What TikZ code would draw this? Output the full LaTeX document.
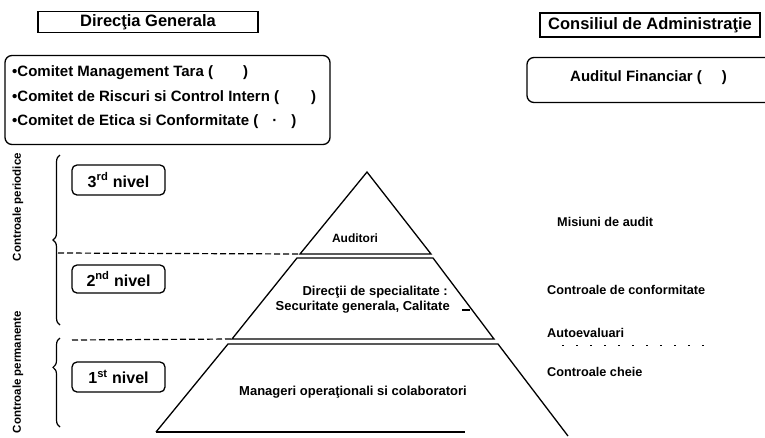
\documentclass[tikz,border=0pt]{standalone}
\usepackage{fontspec}
\setmainfont{Liberation Sans}
\usetikzlibrary{decorations.pathreplacing}
\begin{document}
\begin{tikzpicture}[x=1pt,y=-1pt,
  sqbox/.style={draw,line width=1.3pt,inner sep=0pt,font=\bfseries\fontsize{16.5}{18}\selectfont},
  rbox/.style={draw,line width=1.3pt,rounded corners=7pt,inner sep=0pt},
  lvl/.style={draw,line width=1.3pt,rounded corners=5pt,inner sep=0pt,minimum width=93pt,font=\bfseries\fontsize{16}{18}\selectfont},
  lst/.style={anchor=west,inner sep=0pt,font=\bfseries\fontsize{15}{17}\selectfont},
  ptxt/.style={inner sep=0pt,font=\bfseries\fontsize{13}{15}\selectfont},
  rtxt/.style={anchor=west,inner sep=0pt,font=\bfseries\fontsize{12.7}{14}\selectfont},
  side/.style={inner sep=0pt,rotate=90,font=\bfseries\fontsize{11.5}{13}\selectfont},
  pyr/.style={line width=1.3pt,line join=miter},
  sep/.style={line width=1.2pt,dash pattern=on 6pt off 3pt},
  brc/.style={line width=1.2pt,decorate,decoration={brace,amplitude=7pt}}]
\useasboundingbox (0,0) rectangle (765,437);
% top boxes
\node[sqbox,minimum width=220pt,minimum height=21pt] (dg) at (148,22) {Direcţia Generala};
\node[rbox,minimum width=325pt,minimum height=89pt] (com) at (167.5,100) {};
\node[lst] (c1) at (12,73) {•Comitet Management Tara (\hspace{30pt})};
\node[lst] (c2) at (12,98) {•Comitet de Riscuri si Control Intern (\hspace{32pt})};
\node[lst] (c3) at (12,122) {•Comitet de Etica si Conformitate (\hspace{14pt}·\hspace{14pt})};
\node[sqbox,minimum width=220pt,minimum height=24pt] (ca) at (650,25) {Consiliul de Administraţie};
\node[rbox,minimum width=250pt,minimum height=45pt] (af) at (652,80) {};
\node[lst] (aft) at (570,78) {Auditul Financiar (\hspace{20pt})};
% level boxes
\node[lvl,minimum height=30pt] (n3) at (118.5,180) {3\textsuperscript{rd} nivel};
\node[lvl,minimum height=28pt] (n2) at (118.5,279) {2\textsuperscript{nd} nivel};
\node[lvl,minimum height=30pt] (n1) at (118.5,377) {1\textsuperscript{st} nivel};
% side labels
\node[side] (sp) at (18,207) {Controale periodice};
\node[side] (sm) at (18,372) {Controale permanente};
\coordinate (b1a) at (60,325); \coordinate (b1b) at (60,155);
\coordinate (b2a) at (60,427); \coordinate (b2b) at (60,338);
\draw[brc] (b1a) -- (b1b);
\draw[brc,decoration={aspect=0.67}] (b2a) -- (b2b);
% pyramid
\coordinate (ap) at (367,172);
\coordinate (t1) at (300,254); \coordinate (t2) at (431,254);
\coordinate (m1) at (297,258); \coordinate (m2) at (433,258);
\coordinate (m3) at (232,339); \coordinate (m4) at (494,339);
\coordinate (l1) at (228,344); \coordinate (l2) at (498,344);
\coordinate (l3) at (156,432); \coordinate (l4) at (568,436);
\coordinate (bs) at (465,432);
\draw[pyr] (t1) -- (ap) -- (t2) -- cycle;
\draw[pyr] (m1) -- (m2) -- (m4) -- (m3) -- cycle;
\draw[pyr] (l3) -- (l1) -- (l2) -- (l4);
\draw[pyr] (l3) -- (bs);
% dashed separators
\coordinate (d1) at (58,253); \coordinate (d2) at (72,340);
\draw[sep] (d1) -- (t1);
\draw[sep] (d2) -- (m3);
% pyramid texts
\node[ptxt,font=\bfseries\fontsize{12}{14}\selectfont] (aud) at (355,238) {Auditori};
\node[ptxt,anchor=east] (dir1) at (448,292) {Direcţii de specialitate :};
\node[ptxt,anchor=east] (dir2) at (450,307) {Securitate generala, Calitate};
\coordinate (u1) at (462,310); \coordinate (u2) at (470,310);
\draw[line width=1.2pt] (u1) -- (u2);
\node[ptxt] (mgr) at (353,392) {Manageri operaţionali si colaboratori};
% right texts
\node[rtxt] (r1) at (557,222) {Misiuni de audit};
\node[rtxt] (r2) at (547,290) {Controale de conformitate};
\node[rtxt] (r3) at (547,333) {Autoevaluari};
\coordinate (o1) at (562,345); \coordinate (o2) at (712,345);
\draw[line width=1pt,dash pattern=on 2pt off 12pt] (o1) -- (o2);
\node[rtxt] (r4) at (547,372) {Controale cheie};
\end{tikzpicture}
\end{document}
